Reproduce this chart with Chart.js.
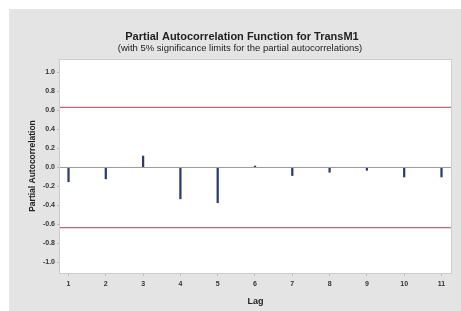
<!DOCTYPE html>
<html>
<head>
<meta charset="utf-8">
<script src="https://cdn.jsdelivr.net/npm/chart.js@4"></script>
<style>
  html, body { margin: 0; padding: 0; background: #fff; }
  #wrap { position: absolute; left: 9px; top: 9px; width: 452px; height: 302px; background: #e4e4e4; }
</style>
</head>
<body>
<div id="wrap"><canvas id="pacf-chart" width="452" height="302"></canvas></div>
<script>
const lags = [1, 2, 3, 4, 5, 6, 7, 8, 9, 10, 11];
const pacfValues = [-0.15, -0.12, 0.12, -0.33, -0.37, 0.015, -0.085, -0.05, -0.03, -0.1, -0.1];
const sigLimit = 0.632;
const lagRange = [0.772, 11.255];
const yRange = [-1.11, 1.13];

const FONT = "'Liberation Sans', Arial, sans-serif";

// draws background of plot area, border and the text labels
const framePlugin = {
    id: "frame",
    beforeDraw(chart) {
        const { ctx, chartArea: a } = chart;
        ctx.save();
        ctx.fillStyle = "#fff";
        ctx.fillRect(a.left, a.top, a.right - a.left, a.bottom - a.top);
        ctx.restore();
    },
    afterDraw(chart) {
        const { ctx, chartArea: a } = chart;
        ctx.save();
        ctx.strokeStyle = "#cdcdcd";
        ctx.lineWidth = 1;
        ctx.strokeRect(a.left - 0.5, a.top - 0.5, a.right - a.left + 1, a.bottom - a.top + 1);

        ctx.fillStyle = "#222";
        ctx.textAlign = "center";
        ctx.textBaseline = "middle";
        ctx.font = "bold 11px " + FONT;
        ctx.fillText("Partial Autocorrelation Function for TransM1", 233, 28);
        ctx.font = "9.5px " + FONT;
        ctx.fillText("(with 5% significance limits for the partial autocorrelations)", 231, 39);

        ctx.font = "bold 9px " + FONT;
        ctx.fillText("Lag", (a.left + a.right) / 2, 293);

        ctx.translate(24, 157);
        ctx.rotate(-Math.PI / 2);
        ctx.font = "bold 8.5px " + FONT;
        ctx.fillText("Partial Autocorrelation", 0, 0);
        ctx.restore();
    },
};

function pacfChart() {
    const chartEl = document.getElementById("pacf-chart");
    const ctx = chartEl.getContext("2d");

    const config = {
        data: {
            datasets: [
                {
                    type: "line",
                    data: [{ x: lagRange[0], y: 0 }, { x: lagRange[1], y: 0 }],
                    borderColor: "#9a9a9a",
                    borderWidth: 1,
                    pointRadius: 0,
                },
                {
                    type: "line",
                    data: [{ x: lagRange[0], y: sigLimit }, { x: lagRange[1], y: sigLimit }],
                    borderColor: "#c46a76",
                    borderWidth: 1.2,
                    pointRadius: 0,
                },
                {
                    type: "line",
                    data: [{ x: lagRange[0], y: -sigLimit }, { x: lagRange[1], y: -sigLimit }],
                    borderColor: "#c46a76",
                    borderWidth: 1.2,
                    pointRadius: 0,
                },
                {
                    type: "bar",
                    data: lags.map((l, i) => ({ x: l, y: pacfValues[i] })),
                    backgroundColor: "#2f3a70",
                    barThickness: 1.6,
                },
            ],
        },
        options: {
            responsive: false,
            animation: false,
            layout: { padding: { top: 51, right: 10, left: 0, bottom: 0 } },
            plugins: {
                legend: { display: false },
                tooltip: { enabled: false },
            },
            scales: {
                x: {
                    type: "linear",
                    offset: false,
                    min: lagRange[0],
                    max: lagRange[1],
                    afterFit: (s) => { s.height = 38; s.paddingLeft = 0; s.paddingRight = 0; },
                    grid: { offset: false, drawOnChartArea: false, tickLength: 3, color: "#bbb" },
                    border: { display: false },
                    ticks: {
                        stepSize: 1,
                        includeBounds: false,
                        padding: 4,
                        color: "#333",
                        font: { family: FONT, size: 7, weight: "bold" },
                        maxRotation: 0,
                    },
                },
                y: {
                    min: yRange[0],
                    max: yRange[1],
                    afterFit: (s) => { s.width = 51; s.paddingTop = 0; s.paddingBottom = 0; },
                    grid: { drawOnChartArea: false, tickLength: 3, color: "#bbb" },
                    border: { display: false },
                    ticks: {
                        stepSize: 0.2,
                        includeBounds: false,
                        padding: 2,
                        color: "#333",
                        font: { family: FONT, size: 7, weight: "bold" },
                        callback: (v) => v.toFixed(1),
                    },
                },
            },
        },
        plugins: [framePlugin],
    };

    new Chart(ctx, config);
}

document.addEventListener("DOMContentLoaded", pacfChart);
</script>
</body>
</html>
